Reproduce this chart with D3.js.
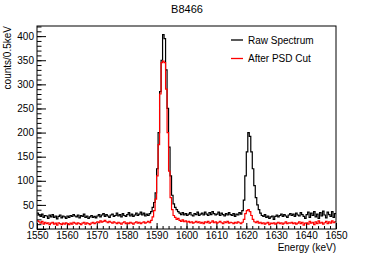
<!DOCTYPE html>
<html>
<head>
<meta charset="utf-8">
<style>
body { margin: 0; background: #fff; }
svg { font-family: "Liberation Sans", Arial, sans-serif; }
.axis text { font-size: 10px; fill: #000; }
</style>
</head>
<body>
<svg width="374" height="255"></svg>
<script src="https://cdn.jsdelivr.net/npm/d3@7"></script>
<script>

// energy bins, 0.5 keV wide, from 1550 to 1650 keV
var binStart = 1550, binWidth = 0.5;

var raw = [
  33, 30, 26, 31, 24, 28, 27, 22, 29, 25,
  30, 24, 27, 21, 26, 29, 23, 27, 25, 22,
  27, 24, 28, 26, 30, 27, 25, 29, 23, 28,
  26, 31, 24, 27, 22, 25, 28, 24, 26, 23,
  27, 30, 25, 29, 32, 26, 30, 27, 24, 29,
  31, 26, 28, 33, 27, 30, 25, 32, 28, 26,
  30, 34, 27, 31, 26, 29, 33, 28, 31, 35,
  29, 33, 27, 31, 28, 32, 36, 45, 55, 75,
  125, 200, 285, 350, 403, 395, 330, 250, 170, 110,
  70, 52, 45, 40, 36, 33, 30, 34, 29, 32,
  28, 31, 34, 29, 27, 32, 30, 35, 28, 31,
  33, 29, 35, 31, 28, 34, 30, 36, 32, 29,
  31, 35, 28, 33, 30, 27, 32, 29, 34, 30,
  28, 32, 26, 31, 29, 34, 31, 38, 60, 110,
  160, 200, 192, 160, 125, 90, 65, 50, 40, 33,
  28, 26, 30, 24, 27, 22, 25, 27, 20, 26,
  29, 25, 28, 31, 26, 30, 27, 24, 29, 32,
  28, 31, 26, 33, 29, 27, 34, 30, 26, 22,
  30, 35, 24, 33, 28, 36, 25, 31, 22, 34,
  27, 37, 29, 23, 35, 30, 26, 36, 24, 32
];

var psd = [
  17, 15, 12, 16, 10, 14, 11, 13, 9, 12,
  14, 10, 12, 8, 13, 11, 9, 12, 10, 13,
  11, 9, 12, 10, 14, 12, 10, 13, 11, 9,
  12, 14, 10, 13, 11, 9, 12, 14, 11, 13,
  15, 13, 17, 14, 16, 18, 15, 13, 16, 14,
  12, 15, 13, 11, 14, 12, 10, 13, 15, 11,
  13, 11, 14, 12, 10, 13, 15, 12, 14, 11,
  13, 15, 12, 14, 16, 13, 18, 25, 38, 62,
  110, 175, 280, 345, 348, 345, 290, 200, 120, 65,
  40, 28, 24, 20, 22, 18, 16, 19, 15, 17,
  14, 16, 13, 15, 12, 14, 16, 13, 15, 12,
  14, 11, 15, 13, 16, 12, 14, 17, 13, 15,
  12, 14, 16, 13, 11, 15, 13, 16, 12, 14,
  13, 11, 14, 12, 15, 13, 11, 14, 20, 32,
  38, 40, 36, 28, 20, 15, 13, 16, 12, 14,
  11, 13, 10, 12, 14, 9, 12, 11, 13, 10,
  12, 14, 11, 13, 10, 12, 15, 11, 13, 12,
  14, 11, 13, 10, 12, 15, 11, 14, 8, 12,
  13, 10, 16, 12, 14, 9, 15, 11, 17, 12,
  14, 10, 13, 16, 11, 15, 12, 17, 13, 15
];

var xTicks = [1550, 1560, 1570, 1580, 1590, 1600, 1610, 1620, 1630, 1640, 1650];
var yTicks = [0, 50, 100, 150, 200, 250, 300, 350, 400];
var legendNames = ["Raw Spectrum", "After PSD Cut"];
var colors = ["#000000", "#ff0000"];

var svg = d3.select("svg"),
    margin = {top: 26, right: 38, bottom: 26, left: 37},
    width = +svg.attr("width") - margin.left - margin.right,
    height = +svg.attr("height") - margin.top - margin.bottom;

var x = d3.scaleLinear().domain([1550, 1650]).range([0, width]);
var y = d3.scaleLinear().domain([0, 421]).range([height, 0]);

var g = svg.append("g")
    .attr("transform", "translate(" + margin.left + "," + margin.top + ")");

// minor ticks
g.append("g")
    .attr("class", "axis")
    .attr("transform", "translate(0," + height + ")")
    .call(d3.axisBottom(x).tickValues(d3.range(1550, 1651, 2)).tickSize(-3).tickFormat(""))
    .call(function(s) { s.select(".domain").remove(); });

g.append("g")
    .attr("class", "axis")
    .call(d3.axisLeft(y).tickValues(d3.range(0, 421, 10)).tickSize(-4.5).tickFormat(""))
    .call(function(s) { s.select(".domain").remove(); });

// major ticks with labels
g.append("g")
    .attr("class", "axis")
    .attr("transform", "translate(0," + height + ")")
    .call(d3.axisBottom(x).tickValues(xTicks).tickSizeInner(-6).tickSizeOuter(0).tickPadding(3).tickFormat(d3.format("d")))
    .call(function(s) { s.select(".domain").remove(); });

g.append("g")
    .attr("class", "axis")
    .call(d3.axisLeft(y).tickValues(yTicks).tickSizeInner(-9).tickSizeOuter(0).tickPadding(3).tickFormat(d3.format("d")))
    .call(function(s) {
      s.select(".domain").remove();
      s.selectAll(".tick text").filter(function(d) { return d === 0; }).attr("dy", "-0.1em");
    });

g.selectAll(".axis line").attr("stroke", "#000").attr("stroke-width", 1);

// histograms as steps
function steps(values) {
  var pts = [];
  values.forEach(function(v, i) {
    var e0 = binStart + i * binWidth;
    pts.push([e0, v]);
    pts.push([e0 + binWidth, v]);
  });
  return pts;
}

var line = d3.line()
    .x(function(d) { return x(d[0]); })
    .y(function(d) { return y(d[1]); });

[raw, psd].forEach(function(series, i) {
  g.append("path")
      .datum(steps(series))
      .attr("fill", "none")
      .attr("stroke", colors[i])
      .attr("stroke-width", 1.2)
      .attr("stroke-linejoin", "miter")
      .attr("d", line);
});

// frame
g.append("rect")
    .attr("width", width)
    .attr("height", height)
    .attr("fill", "none")
    .attr("stroke", "#000")
    .attr("stroke-width", 1);

// titles
svg.append("text")
    .attr("x", 187)
    .attr("y", 13)
    .attr("text-anchor", "middle")
    .style("font-size", "11px")
    .text("B8466");

svg.append("text")
    .attr("x", margin.left + width)
    .attr("y", 251)
    .attr("text-anchor", "end")
    .style("font-size", "10px")
    .text("Energy (keV)");

svg.append("text")
    .attr("transform", "translate(11," + margin.top + ") rotate(-90)")
    .attr("text-anchor", "end")
    .style("font-size", "10px")
    .text("counts/0.5keV");

// legend
var legend = svg.append("g");
legendNames.forEach(function(name, i) {
  var ly = 40 + i * 18.5;
  legend.append("line")
      .attr("x1", 231).attr("x2", 243)
      .attr("y1", ly).attr("y2", ly)
      .attr("stroke", colors[i])
      .attr("stroke-width", 1.3);
  legend.append("text")
      .attr("x", 248)
      .attr("y", ly + 3.5)
      .style("font-size", "10px")
      .text(name);
});

</script>
</body>
</html>
